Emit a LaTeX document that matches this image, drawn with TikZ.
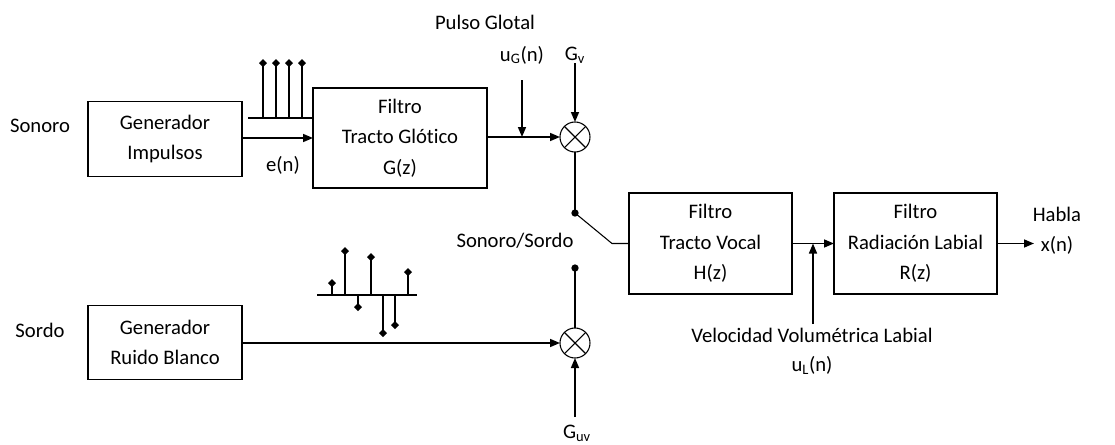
\documentclass[tikz,border=0pt]{standalone}
\usepackage{fontspec}
\setmainfont{Carlito}[Ligatures=NoCommon]
\usetikzlibrary{arrows.meta,shapes.geometric,calc}

\begin{document}
\begin{tikzpicture}[x=0.75pt,y=-0.75pt,
  every node/.style={font=\fontsize{15.5}{22.8}\selectfont, inner sep=0pt, outer sep=0pt},
  block/.style={draw=black, line width=0.8pt, align=center, minimum width=115.5pt, minimum height=56pt},
  mult/.style={draw=black, circle, line width=0.8pt, minimum size=22.5pt},
  arr/.style={line width=1.2pt, -{Triangle[length=7.5pt,width=6pt]}},
  wire/.style={line width=1.2pt},
  tipdot/.style={diamond, fill=black, minimum size=6pt},
  swdot/.style={circle, fill=black, minimum size=5.5pt}]
\useasboundingbox (0,0) rectangle (1115,444);
% bloques
\node[block] (gimp) at (165,139) {Generador\\Impulsos};
\node[block] (gruido) at (165,342.5) {Generador\\Ruido Blanco};
\node[block, minimum width=130.5pt, minimum height=75pt] (glot) at (400,138) {Filtro\\Tracto Glótico\\G(z)};
\node[block, minimum width=122.25pt, minimum height=75.75pt] (vocal) at (710.5,243.5) {Filtro\\Tracto Vocal\\H(z)};
\node[block, minimum width=122.25pt, minimum height=75.75pt] (rad) at (915.5,243.5) {Filtro\\Radiación Labial\\R(z)};
\node[mult] (mv) at (575,137) {};
\node[mult] (muv) at (575,343) {};
\draw[line width=0.8pt] (mv.45) -- (mv.225) (mv.135) -- (mv.-45);
\draw[line width=0.8pt] (muv.45) -- (muv.225) (muv.135) -- (muv.-45);
% textos
\node (sonoro) at (40,126) {Sonoro};
\node (sordo) at (40,330) {Sordo};
\node (en) at (283,165) {e(n)};
\node (pulso) at (485,22) {Pulso Glotal};
\node (ug) at (522,55) {u\textsubscript{G}(n)};
\node (gv) at (575,55) {G\textsubscript{v}};
\node (guv) at (577,433) {G\textsubscript{uv}};
\node (sonsor) at (515,241) {Sonoro/Sordo};
\node (vel) at (812,335) {Velocidad Volumétrica Labial};
\node (ul) at (812,365) {u\textsubscript{L}(n)};
\node[align=center] (habla) at (1057,231) {Habla\\x(n)};
% impulsos
\coordinate (imps) at (248,118);
\draw[wire] (imps) -- (imps -| glot.west);
\foreach \x in {263,276,289,302}
  \draw[wire] (\x,118) -- (\x,63) node[tipdot] {};
% ruido
\coordinate (nois) at (317,295);
\draw[wire] (nois) -- (417,295);
\foreach \x/\y in {332/283,345/251,358/307,371/257,383/333,395/325,408/272}
  \draw[wire] (\x,295) -- (\x,\y) node[tipdot] {};
% conexiones
\draw[arr] (gimp.east |- glot.west) -- (glot.west);
\draw[arr] (glot.east |- mv.west) -- (mv.west);
\coordinate (ugtop) at (522,80);
\draw[arr] (ugtop) -- (ugtop |- mv.west);
\coordinate (gvtop) at (575,63);
\draw[arr] (gvtop) -- (mv.north);
\node[swdot] (sw1) at (575,213) {};
\node[swdot] (sw2) at (575,268) {};
\coordinate (knee) at (612,243.5);
\draw[wire] (mv.south) -- (sw1.center);
\draw[line width=0.8pt] (sw1.center) -- (knee) -- (vocal.west);
\draw[wire] (sw2.center) -- (muv.north);
\draw[arr] (gruido.east |- muv.west) -- (muv.west);
\coordinate (guvbot) at (575,417);
\draw[arr] (guvbot) -- (muv.south);
\draw[arr] (vocal.east) -- (rad.west);
\coordinate (ulbot) at (813,324);
\draw[arr] (ulbot) -- (ulbot |- vocal.east);
\coordinate (xout) at (1034,243.5);
\draw[arr] (rad.east) -- (xout);
\end{tikzpicture}
\end{document}
